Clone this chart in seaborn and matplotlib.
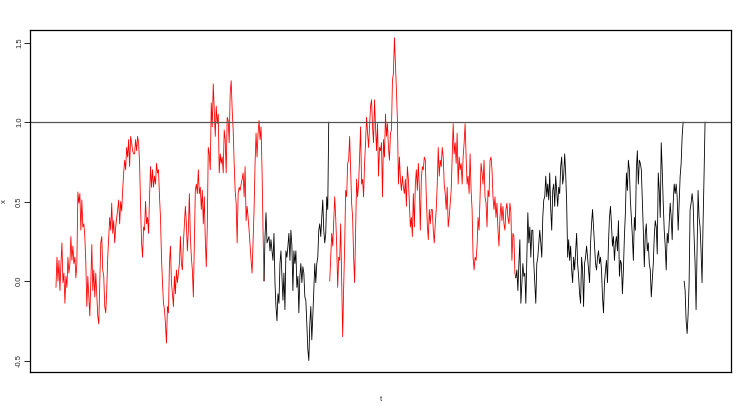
import numpy as np
import pandas as pd
import seaborn as sns
import matplotlib
matplotlib.use("Agg")
import matplotlib.pyplot as plt

# path values, one per time step, split into the coloured pieces
red1 = [-0.04, 0.15, 0.0, 0.13, -0.06, 0.11, 0.24, -0.01, 0.05, -0.14, 0.03, -0.04, 0.15, 0.05, 0.11,
        0.28, 0.13, 0.22, 0.11, 0.15, 0.02, 0.11, 0.56, 0.49, 0.55, 0.32, 0.51, 0.34, 0.36, 0.28, 0.11,
        -0.16, 0.03, -0.10, -0.22, -0.01, 0.23, -0.06, 0.07, -0.10, 0.05, -0.08, -0.22, -0.27, 0.0, 0.24,
        0.28, 0.07, 0.03, -0.16, -0.20, -0.06, 0.15, 0.28, 0.40, 0.32, 0.49, 0.30, 0.38, 0.24, 0.34, 0.40,
        0.45, 0.51, 0.36, 0.50, 0.44, 0.57, 0.68, 0.76, 0.70, 0.84, 0.78, 0.89, 0.72, 0.91, 0.87, 0.82, 0.80,
        0.80, 0.89, 0.82, 0.91, 0.87, 0.74, 0.47, 0.24, 0.15, 0.34, 0.32, 0.50, 0.36, 0.40, 0.30, 0.53, 0.72,
        0.59, 0.70, 0.59, 0.66, 0.61, 0.74, 0.68, 0.70, 0.53, 0.40, 0.15, -0.01, -0.14, -0.18, -0.27, -0.39,
        -0.16, -0.20, 0.11, 0.22, -0.01, -0.08, -0.16, 0.03, -0.08, 0.07, -0.01, 0.05, 0.11, 0.28, 0.11, 0.07,
        0.24, 0.36, 0.47, 0.36, 0.19, 0.32, 0.55, 0.28, 0.15, 0.07, -0.10, 0.24, 0.57, 0.61, 0.55, 0.70, 0.55,
        0.59, 0.45, 0.57, 0.36, 0.53, 0.26, 0.09, 0.34, 0.84, 0.80, 0.70, 1.12, 0.97, 1.24, 1.08, 0.91, 1.10,
        0.99, 1.05, 0.68, 0.80, 0.74, 0.78, 0.68, 0.95, 0.89, 0.68, 1.03, 1.01, 0.87, 1.18, 1.26, 1.08, 0.95,
        0.74, 0.57, 0.49, 0.24, 0.55, 0.59, 0.57, 0.61, 0.64, 0.68, 0.53, 0.72, 0.38, 0.47, 0.40, 0.32, 0.22,
        0.13, 0.05, 0.24, 0.45, 0.74, 0.93, 0.78, 0.93, 1.01, 0.89, 0.97, 0.70, 0.32, 0.0]

black1 = [0.0, 0.28, 0.43, 0.24, 0.26, 0.28, 0.19, 0.26, 0.19, 0.13, 0.30, -0.01, -0.16, -0.25, -0.08,
          -0.14, 0.11, 0.19, 0.03, -0.12, 0.05, -0.18, 0.19, 0.15, 0.22, 0.30, 0.13, 0.32, 0.22, -0.06, 0.19,
          0.11, 0.19, -0.04, 0.03,
          -0.20, 0.03, 0.11, -0.01, 0.09, 0.05, -0.10, -0.12, -0.27, -0.43, -0.50, -0.27, -0.16, -0.37, -0.22,
          -0.06, 0.11, -0.01, 0.11, 0.15, 0.32, 0.36, 0.28, 0.40, 0.51, 0.32, 0.24, 0.30, 0.53, 0.45, 1.0]

red2 = [0.0, 0.15, 0.30, 0.22, 0.38, 0.53, 0.40, 0.22, -0.04, 0.15, 0.13, 0.36, 0.0, -0.35, -0.04, 0.22,
        0.57, 0.53, 0.74, 0.76, 0.91, 0.70, 0.49, 0.40, 0.15, -0.01, 0.30, 0.64, 0.53, 0.61, 0.78, 0.97, 0.61,
        0.64, 0.53, 0.74, 0.87, 1.03, 0.93, 0.84, 0.97, 1.10, 1.14, 0.97, 0.87, 1.14, 0.97, 0.82, 0.99, 0.66,
        0.84,
        0.82, 0.87, 0.53, 0.89, 0.78, 1.05, 0.91, 0.99, 0.84, 0.76, 0.93, 0.95, 1.26, 1.31, 1.53, 1.37, 1.20,
        1.01, 0.61, 0.78, 0.64, 0.57, 0.66, 0.59, 0.55, 0.64, 0.47, 0.72, 0.64, 0.49, 0.34, 0.40, 0.28, 0.55,
        0.34, 0.61, 0.70, 0.57, 0.74, 0.59, 0.32, 0.64, 0.72, 0.70, 0.78, 0.76, 0.53, 0.36, 0.26, 0.45, 0.36,
        0.45, 0.45, 0.32, 0.24, 0.36, 0.45, 0.61, 0.84, 0.66, 0.76, 0.72, 0.84, 0.78, 0.61, 0.55, 0.45, 0.59,
        0.34, 0.40, 0.49, 0.57, 0.78, 0.99, 0.80, 0.87, 0.74, 0.93, 0.61, 0.78, 0.70, 0.74,
        0.61, 0.78, 0.87, 0.99, 0.78, 0.61, 0.66, 0.55, 0.80, 0.57, 0.45, 0.15, 0.07, 0.15, 0.13, 0.22, 0.40,
        0.32, 0.53, 0.74, 0.68, 0.61, 0.76, 0.53, 0.49, 0.34, 0.57, 0.53, 0.76, 0.78, 0.70, 0.53, 0.45, 0.53,
        0.40, 0.49, 0.32, 0.22, 0.40, 0.49, 0.38, 0.47, 0.36, 0.32, 0.45, 0.49, 0.40, 0.36, 0.49, 0.43, 0.13,
        0.30, 0.28, 0.05, 0.02]

black2 = [0.02, 0.07, -0.06, 0.11, 0.26, -0.14, -0.01, 0.11, 0.03, 0.05, -0.14, 0.15, 0.43, 0.24, 0.34,
          0.15, 0.32, 0.32, 0.11, -0.01, -0.14, 0.11, 0.15, 0.24, 0.32, 0.24, 0.15, 0.40, 0.51,
          0.53, 0.66, 0.53, 0.61, 0.51, 0.68, 0.45, 0.32, 0.57, 0.61, 0.47, 0.66, 0.57, 0.47, 0.59, 0.55, 0.72,
          0.78, 0.61, 0.66, 0.80, 0.68, 0.49, 0.15, 0.26, 0.13, 0.22, 0.07, -0.01, 0.15, 0.07, 0.19, 0.30, 0.11,
          0.03, -0.08, -0.14, 0.15, 0.07, -0.16, 0.11, 0.15, 0.22, 0.15, 0.07, -0.01, 0.24, 0.36, 0.45, 0.34,
          0.24, 0.11, 0.07, 0.15, 0.19, 0.11, 0.15, 0.07, -0.10, -0.20, -0.01, 0.07, 0.13, -0.01, 0.24, 0.40,
          0.47, 0.36, 0.22, 0.28, 0.13, 0.24, 0.28, 0.19, 0.38, 0.03, 0.13, 0.11, -0.08, 0.07, 0.28, 0.43,
          0.68, 0.57, 0.76, 0.70, 0.51, 0.40, 0.28, 0.13, 0.40, 0.32, 0.70, 0.82, 0.61, 0.76, 0.74, 0.70, 0.51,
          0.32, 0.09, 0.30, 0.36, 0.19, 0.24, 0.11, 0.07, -0.10, 0.0, 0.11, 0.28, 0.38, 0.34, 0.17, 0.68, 0.57,
          0.40, 0.87, 0.70, 0.49, 0.32, 0.22, 0.07, 0.30, 0.24, 0.36, 0.49, 0.40, 0.26, 0.49, 0.61, 0.55, 0.61,
          0.53, 0.32, 0.49, 0.66, 0.74, 0.91, 1.0]

black3 = [0.0, -0.06, -0.25, -0.33, -0.21, -0.01, 0.45, 0.49, 0.55, 0.49, 0.28, 0.11, -0.18, 0.19, 0.57,
          0.40, 0.34, 0.19, -0.01, 0.36, 0.66, 1.0]

# start step of each piece
starts = [0, 209, 275, 462, 631]
pieces = [red1, black1, red2, black2, black3]
colours = ["red", "black", "red", "black", "black"]
level = 1.0

sns.set_style("white")
plt.rcParams['font.family'] = ['Liberation Sans', 'DejaVu Sans']

fig = plt.figure(figsize=(7.47, 4.11), dpi=100)
ax = fig.add_axes([30 / 747, 1 - 372 / 411, 701 / 747, 342 / 411])

for s, vals, c in zip(starts, pieces, colours):
    df = pd.DataFrame({"t": np.arange(s, s + len(vals)), "x": vals})
    sns.lineplot(data=df, x="t", y="x", color=c, linewidth=0.6, sort=False, estimator=None, ax=ax)

ax.axhline(level, color="#555555", linewidth=0.9)

tmax = max(s + len(v) - 1 for s, v in zip(starts, pieces))
pad_t = 0.04 * tmax
ax.set_xlim(-pad_t, tmax + pad_t)
ax.set_ylim(-0.572, 1.579)

ax.set_xticks([])
ax.set_yticks([-0.5, 0.0, 0.5, 1.0, 1.5])
ax.set_yticklabels(["-0.5", "0.0", "0.5", "1.0", "1.5"], rotation=90, va="center", fontsize=5.5)
ax.tick_params(axis="y", direction="out", length=4, width=0.7, left=True, pad=1)
ax.set_xlabel("t", fontsize=5.5, labelpad=17)
ax.set_ylabel("x", fontsize=5.5, labelpad=6)
for sp in ax.spines.values():
    sp.set_color("black")
    sp.set_linewidth(0.9)

fig.savefig("out.png", dpi=100)
